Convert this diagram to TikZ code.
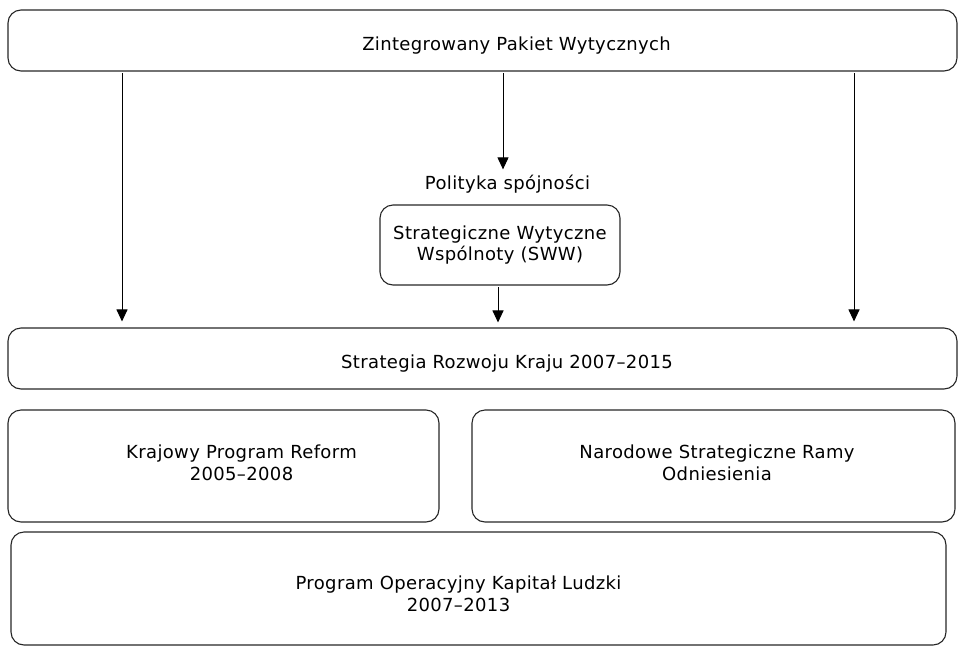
\documentclass[tikz,border=0pt]{standalone}
\usepackage{fontspec}
\setmainfont{DejaVu Sans}[LetterSpace=2]
\usetikzlibrary{arrows.meta}
\begin{document}
\begin{tikzpicture}[x=1pt,y=-1pt,
  box/.style={draw=black!85, line width=1.1pt, rounded corners=13pt, inner sep=0pt},
  lbl/.style={align=center, font=\fontsize{18}{21.5}\selectfont},
  arr/.style={line width=1pt, -{Triangle[length=12pt,width=11pt]}}]
\useasboundingbox (0,0) rectangle (958,646);
\node[box, minimum width=949pt, minimum height=61pt, label={[lbl, xshift=34pt, yshift=-5pt]center:Zintegrowany Pakiet Wytycznych}] (pakiet) at (482.5,40.5){};
\node[lbl] (polityka) at (507.5,184){Polityka spójności};
\node[box, lbl, minimum width=240pt, minimum height=80pt] (sww) at (500,245){Strategiczne Wytyczne\\Wspólnoty (SWW)};
\node[box, minimum width=949pt, minimum height=61pt, label={[lbl, xshift=24.5pt, yshift=-5pt]center:Strategia Rozwoju Kraju 2007–2015}] (strategia) at (482.5,358.5){};
\node[box, minimum width=431pt, minimum height=112pt, label={[lbl, xshift=18pt, yshift=3pt]center:Krajowy Program Reform\\2005–2008}] (krajowy) at (223.5,466){};
\node[box, minimum width=483pt, minimum height=112pt, label={[lbl, xshift=3.5pt, yshift=3pt]center:Narodowe Strategiczne Ramy\\Odniesienia}] (narodowe) at (713.5,466){};
\node[box, minimum width=935pt, minimum height=113pt, label={[lbl, xshift=-20pt, yshift=-5.5pt]center:Program Operacyjny Kapitał Ludzki\\2007–2013}] (program) at (478.5,588.5){};
% arrows
\coordinate (lx) at (122,0);
\coordinate (mx) at (503,0);
\coordinate (rx) at (854,0);
\coordinate (sx) at (498,0);
\draw[arr, shorten <=1.5pt, shorten >=6pt] (pakiet.south -| lx) -- (strategia.north -| lx);
\draw[arr, shorten <=1.5pt, shorten >=6pt] (pakiet.south -| rx) -- (strategia.north -| rx);
\draw[arr, shorten <=1.5pt, shorten >=2pt] (pakiet.south -| mx) -- (polityka.north -| mx);
\draw[arr, shorten <=1.5pt, shorten >=5pt] (sww.south -| sx) -- (strategia.north -| sx);
\end{tikzpicture}
\end{document}
